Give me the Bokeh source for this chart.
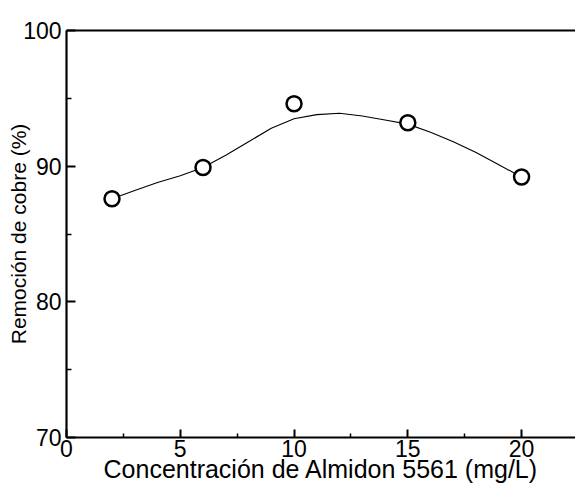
from bokeh.plotting import figure
from bokeh.models import LinearAxis, Range1d, FixedTicker
from bokeh.embed import file_html
from bokeh.resources import INLINE

# Measured points
conc = [2, 6, 10, 15, 20]
removal = [87.6, 89.9, 94.6, 93.2, 89.2]

# Smooth fitted curve
fit_x = [2, 3, 4, 5, 6, 7, 8, 9, 10, 11, 12, 13, 14, 15, 16, 17, 18, 19, 20]
fit_y = [87.6, 88.2, 88.8, 89.3, 89.9, 90.8, 91.8, 92.8, 93.5, 93.8, 93.9,
         93.7, 93.4, 93.1, 92.5, 91.8, 91.0, 90.1, 89.2]

x_ticks = [0, 5, 10, 15, 20]
x_minor = [2.5, 7.5, 12.5, 17.5]
y_ticks = [70, 80, 90, 100]
y_minor = [75, 85, 95]

FONT = "Liberation Sans"

p = figure(width=575, height=497, output_backend="svg", toolbar_location=None,
           x_range=Range1d(0, 22.37), y_range=Range1d(70, 100),
           min_border_left=66, min_border_right=0, min_border_top=30,
           min_border_bottom=60, outline_line_color=None)
p.grid.visible = False

p.line(fit_x, fit_y, line_color="black", line_width=1.1)
p.scatter(conc, removal, size=15, marker="circle", fill_color="white",
          line_color="black", line_width=2.5)

for ax in (p.xaxis[0], p.yaxis[0]):
    ax.axis_line_width = 2.2
    ax.axis_line_color = "black"
    ax.major_tick_line_width = 2
    ax.minor_tick_line_width = 1.5
    ax.major_tick_out = 0
    ax.minor_tick_out = 0
    ax.major_label_text_font = FONT
    ax.major_label_text_font_size = "23px"
    ax.major_label_text_color = "black"
    ax.axis_label_text_font = FONT
    ax.axis_label_text_font_style = "normal"
    ax.axis_label_text_color = "black"

p.xaxis.axis_label_text_font_size = "25px"
p.yaxis.axis_label_text_font_size = "21px"
p.xaxis.ticker = FixedTicker(ticks=x_ticks, minor_ticks=x_minor)
p.yaxis.ticker = FixedTicker(ticks=y_ticks, minor_ticks=y_minor)
p.xaxis.major_tick_in = 8
p.xaxis.minor_tick_in = 4
p.yaxis.major_tick_in = 9
p.yaxis.minor_tick_in = 5
p.xaxis.major_label_standoff = 2
p.yaxis.major_label_standoff = 5
p.xaxis.axis_label = "Concentración de Almidon 5561 (mg/L)"
p.yaxis.axis_label = "Remoción de cobre (%)"
p.xaxis.axis_label_standoff = -5
p.yaxis.axis_label_standoff = -10

top = LinearAxis(ticker=FixedTicker(ticks=[]), major_label_text_font_size="0px",
                 axis_line_width=2.2, axis_line_color="black",
                 major_tick_line_color=None, minor_tick_line_color=None)
p.add_layout(top, "above")

open("out.html", "w").write(file_html(p, INLINE))
